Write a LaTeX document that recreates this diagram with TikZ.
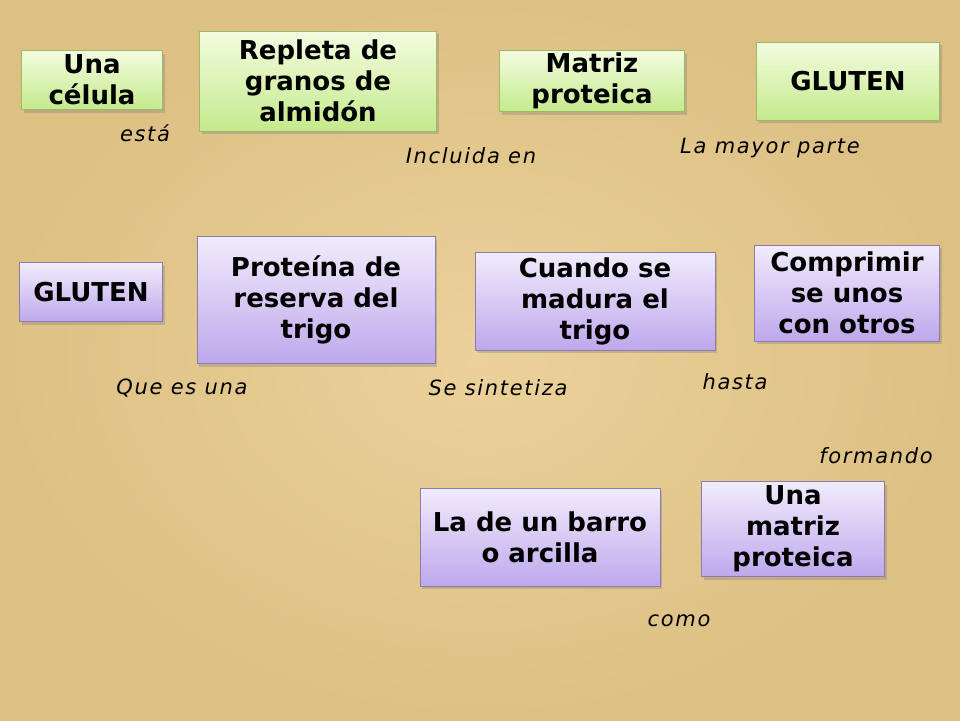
\documentclass[tikz,border=0pt]{standalone}
\usepackage{fontspec}
\setmainfont{DejaVu Sans}
\newfontfamily\linkfont[LetterSpace=8]{DejaVu Sans}
\usepackage{xcolor}
\usetikzlibrary{shapes, arrows, shadows, positioning}
\definecolor{paperin}{HTML}{EBD29A}
\definecolor{paperout}{HTML}{DDC084}
\definecolor{greentop}{HTML}{F4FCE0}
\definecolor{greenbot}{HTML}{C4EA8C}
\definecolor{greenline}{HTML}{9DBB61}
\definecolor{lilactop}{HTML}{F1ECFC}
\definecolor{lilacbot}{HTML}{BEA8EC}
\definecolor{lilacline}{HTML}{8B7BAE}

\begin{document}
\begin{tikzpicture}[
    x=1pt, y=-1pt,% one unit per pixel of the slide
       box/.style = {draw, line width=0.8pt, inner sep=0pt, align=center,
                     font=\bfseries\fontsize{26}{31}\selectfont,
                     drop shadow={opacity=0.35, shadow xshift=2pt, shadow yshift=-3pt}},% nodes style
  greenbox/.style = {box, draw=greenline, top color=greentop, bottom color=greenbot},
  lilacbox/.style = {box, draw=lilacline, top color=lilactop, bottom color=lilacbot},
      link/.style = {font=\linkfont\itshape\fontsize{21}{25}\selectfont}% words between boxes
    ]
    \useasboundingbox (0,0) rectangle (960,720);
    \shade[inner color=paperin, outer color=paperout] (0,0) rectangle (960,720);
    % top row
    \node (celula) [greenbox, minimum width=141, minimum height=59] at (92,80) {Una\\célula};
    \node (repleta) [greenbox, minimum width=237, minimum height=100] at (318,81) {Repleta de\\granos de\\almidón};
    \node (matriz) [greenbox, minimum width=185, minimum height=61] at (592,81) {Matriz\\proteica};
    \node (glutentop) [greenbox, minimum width=183, minimum height=78] at (848,81) {GLUTEN};
    \node (esta) [link] at (145,133) {está};
    \node (incluida) [link] at (471,156) {Incluida en};
    \node (mayor) [link] at (770,148) {La mayor parte};
    % middle row
    \node (gluten) [lilacbox, minimum width=143, minimum height=59] at (91,292) {GLUTEN};
    \node (proteina) [lilacbox, minimum width=238, minimum height=127] at (316,300) {Proteína de\\reserva del\\trigo};
    \node (madura) [lilacbox, minimum width=240, minimum height=98] at (595,301) {Cuando se\\madura el\\trigo};
    \node (comprimir) [lilacbox, minimum width=185, minimum height=96] at (847,293) {Comprimir\\se unos\\con otros};
    \node (quees) [link] at (182,388) {Que es una};
    \node (sintetiza) [link] at (498,388) {Se sintetiza};
    \node (hasta) [link] at (735,382) {hasta};
    \node (formando) [link] at (876,456) {formando};
    % bottom row
    \node (barro) [lilacbox, minimum width=240, minimum height=98] at (540,537) {La de un barro\\o arcilla};
    \node (unamatriz) [lilacbox, minimum width=183, minimum height=95] at (793,529) {Una\\matriz\\proteica};
    \node (como) [link] at (679,621) {como};
\end{tikzpicture}
\end{document}
